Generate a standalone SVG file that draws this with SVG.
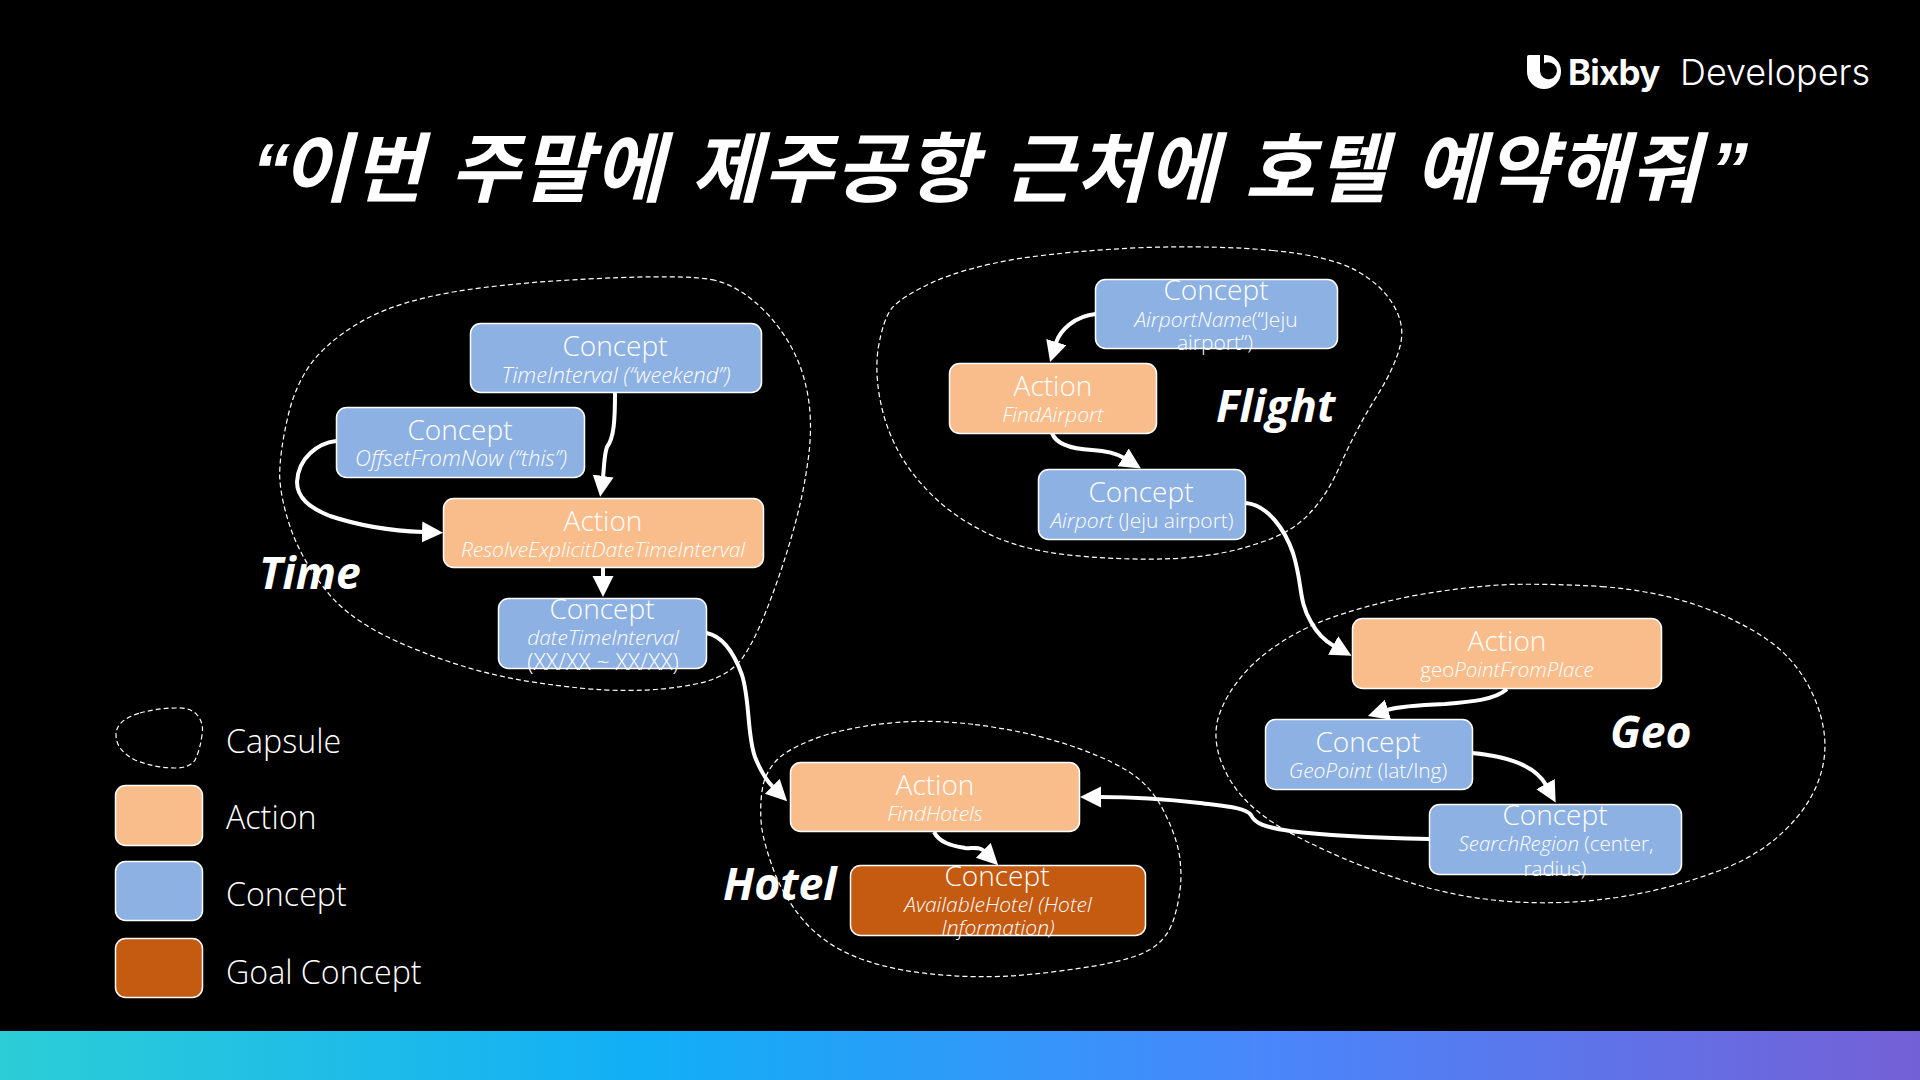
<svg xmlns="http://www.w3.org/2000/svg" width="1920" height="1080" viewBox="0 0 1920 1080">
<defs>
<linearGradient id="bar" x1="0" y1="0" x2="1" y2="0"><stop offset="0" stop-color="#2ccdd6"/><stop offset="0.34" stop-color="#12aef6"/><stop offset="0.66" stop-color="#4a86fb"/><stop offset="1" stop-color="#7460d6"/></linearGradient>
<marker id="ah" markerUnits="userSpaceOnUse" markerWidth="23" markerHeight="24" refX="1" refY="11" orient="auto"><path d="M0 0.5L21 11L0 21.5Z" fill="#fff"/></marker>
</defs>
<style>
text{fill:#fff;font-family:"Open Sans","Noto Sans CJK KR",sans-serif}
.t{font-size:28px;font-weight:300;text-anchor:middle}
.s{font-size:21px;font-weight:300;text-anchor:middle}
.s2{font-size:22px}
.s0{font-size:20.5px}
.i{font-style:italic}
.l{font-size:32.2px;font-weight:300}
.c{font-size:44.5px;font-weight:700;font-style:italic}
.a{fill:#f9bd8c;stroke:#fff;stroke-width:1.5}
.b{fill:#8db1e2;stroke:#fff;stroke-width:1.5}
.g{fill:#c55a11;stroke:#fff;stroke-width:1.5}
.cap{fill:none;stroke:#fff;stroke-width:1.2;stroke-dasharray:5 3}
.e{fill:none;stroke:#fff;stroke-width:4;marker-end:url(#ah)}
</style>
<rect width="1920" height="1080" fill="#000"/>
<rect y="1031" width="1920" height="49" fill="url(#bar)"/>
<g id="logo">
<path d="M1529 55H1561V72A17 17 0 0 1 1527 72V57Q1527 55 1529 55Z" fill="#fff"/>
<path d="M1561 55H1546A16 16 0 0 1 1561 70Z" fill="#000"/>
<path d="M1540 54H1544V63.5A8.5 8.5 0 1 1 1540 71Z" fill="#000"/>
<text x="1568" y="85" font-size="35" font-weight="700" letter-spacing="-0.8" style="font-family:Inter,sans-serif">Bixby</text>
<text x="1680" y="85" font-size="36" font-weight="300" style="font-family:Inter,sans-serif">Developers</text>
</g>
<text id="title" y="196" font-size="76" font-weight="700" font-style="italic" letter-spacing="2" style="font-family:'Noto Sans CJK KR',sans-serif" word-spacing="6"><tspan x="252" style="font-family:'Liberation Sans'">“</tspan><tspan x="281">이번 주말에 제주공항 근처에 호텔 예약해줘</tspan><tspan x="1710" style="font-family:'Liberation Sans'">”</tspan></text>
<g id="capsules">
<path id="cap-time" transform="translate(545.5 483.7) scale(1.012) translate(-543.7 -483.7)" class="cap" d="M708 282Q737 288 764 317Q791 347 800 383Q810 420 802 468Q795 517 772 582Q749 647 733 662Q718 677 690 682Q661 688 622 688Q584 688 527 679Q470 670 412 646Q355 623 330 593Q305 563 293 531Q282 500 281 476Q281 453 289 418Q297 383 316 360Q336 337 368 320Q401 303 454 294Q508 285 594 281Q680 277 708 282Z"/>
<path id="cap-flight" transform="translate(1139.4 403.5) scale(1.017 1.02) translate(-1139 -403)" class="cap" d="M1270 253Q1324 258 1351 272Q1378 287 1389 307Q1401 327 1395 348Q1389 370 1371 398Q1353 427 1338 460Q1324 493 1306 511Q1289 530 1253 541Q1217 553 1172 555Q1128 557 1074 552Q1021 547 985 528Q949 510 924 481Q899 453 888 416Q878 380 882 350Q887 320 896 309Q906 298 936 284Q967 270 1020 261Q1074 253 1145 250Q1217 248 1270 253Z"/>
<path id="cap-geo" transform="translate(1520 744) scale(1.022 1.016) translate(-1518 -743)" class="cap" d="M1598 588Q1649 592 1690 606Q1731 620 1761 641Q1792 663 1807 700Q1822 737 1813 770Q1804 803 1775 830Q1747 857 1698 873Q1649 890 1598 896Q1547 902 1496 897Q1445 892 1394 874Q1343 857 1298 833Q1253 810 1234 778Q1216 747 1222 720Q1229 693 1255 666Q1282 640 1322 623Q1363 607 1414 597Q1465 588 1506 586Q1547 585 1598 588Z"/>
<path id="cap-hotel" transform="translate(970.4 849.2) scale(1.012 1.02) translate(-970.4 -849.2)" class="cap" d="M975 727Q1017 732 1058 744Q1100 757 1125 772Q1150 787 1163 815Q1177 843 1178 865Q1180 887 1173 912Q1167 937 1147 948Q1127 960 1063 968Q1000 977 950 973Q900 970 866 958Q833 947 811 925Q790 903 778 875Q767 847 764 827Q762 807 765 789Q768 772 782 759Q797 747 828 737Q860 728 896 725Q933 722 975 727Z"/>
</g>
<g id="connectors">
<path class="e" d="M615 393C615 420 614 438 607 447C604 455 604 470 603 477"/>
<path class="e" d="M336 441C318 443 298 458 297 482C297 498 310 508 330 516C360 526 395 531 423 532"/>
<path class="e" d="M603 568V577"/>
<path class="e" d="M706.5 633C722 636 733 650 742 675C750 700 747 735 755 757C761 772 767 781 773 787"/>
<path class="e" d="M1095.7 314C1075 316 1060 330 1056 343"/>
<path class="e" d="M1052 433C1056 445 1075 449 1092 450C1108 451 1116 453 1124 458"/>
<path class="e" d="M1245.7 503C1268 505 1285 530 1293 553C1303 585 1298 600 1311 622C1318 635 1325 641 1334 646"/>
<path class="e" d="M1507 689C1495 700 1470 702 1445 704C1420 705 1400 706 1387 710"/>
<path class="e" d="M1472 753C1505 756 1535 765 1546 785"/>
<path class="e" d="M1429.4 839C1385 838 1330 836 1290 831C1265 827 1255 824 1251 815C1245 807 1222 806 1200 803C1165 799 1130 797 1100 797"/>
<path class="e" d="M934 832C940 844 955 846 965 848C972 849 979 846 984 851"/>
</g>
<g id="n-timeinterval"><rect class="b" x="470.5" y="323.5" width="291" height="69" rx="10"/><text class="t" x="615" y="356">Concept</text><text class="s s2 i" x="616" y="383">TimeInterval (“weekend”)</text></g>
<g id="n-offset"><rect class="b" x="336.5" y="407.5" width="248" height="70" rx="10"/><text class="t" x="460" y="440">Concept</text><text class="s s2 i" x="461" y="466">OffsetFromNow (“this”)</text></g>
<g id="n-resolve"><rect class="a" x="443.5" y="498.5" width="320" height="69" rx="10"/><text class="t" x="603" y="531">Action</text><text class="s i" x="603" y="557">ResolveExplicitDateTimeInterval</text></g>
<g id="n-date"><rect class="b" x="498.5" y="598.5" width="208" height="70" rx="10"/><text class="t" x="602" y="619">Concept</text><text class="s i" x="603" y="645">dateTimeInterval</text><text class="s" style="font-size:22.9px" x="603" y="670">(XX/XX ~ XX/XX)</text></g>
<g id="n-airportname"><rect class="b" x="1095.5" y="279.5" width="242" height="69" rx="10"/><text class="t" x="1216" y="300">Concept</text><text class="s" x="1216" y="327"><tspan class="i">AirportName</tspan>(“Jeju</text><text class="s" x="1215" y="350">airport”)</text></g>
<g id="n-findairport"><rect class="a" x="949.5" y="363.5" width="207" height="70" rx="10"/><text class="t" x="1053" y="396">Action</text><text class="s i" x="1053" y="422">FindAirport</text></g>
<g id="n-airport"><rect class="b" x="1038.5" y="469.5" width="207" height="70" rx="10"/><text class="t" x="1141" y="502">Concept</text><text class="s" x="1142" y="528"><tspan class="i">Airport</tspan> (Jeju airport)</text></g>
<g id="n-geopointfromplace"><rect class="a" x="1352.5" y="618.5" width="309" height="70" rx="10"/><text class="t" x="1507" y="651">Action</text><text class="s s0" x="1507" y="677">geo<tspan class="i">PointFromPlace</tspan></text></g>
<g id="n-geopoint"><rect class="b" x="1265.5" y="719.5" width="207" height="70" rx="10"/><text class="t" x="1368" y="752">Concept</text><text class="s" x="1368" y="778"><tspan class="i">GeoPoint</tspan> (lat/lng)</text></g>
<g id="n-searchregion"><rect class="b" x="1429.5" y="804.5" width="252" height="70" rx="10"/><text class="t" x="1555" y="825">Concept</text><text class="s s0" x="1556" y="851"><tspan class="i">SearchRegion</tspan> (center,</text><text class="s s0" x="1555" y="876">radius)</text></g>
<g id="n-findhotels"><rect class="a" x="790.5" y="762.5" width="289" height="69" rx="10"/><text class="t" x="935" y="795">Action</text><text class="s i" x="935" y="821">FindHotels</text></g>
<g id="n-availablehotel"><rect class="g" x="850.5" y="865.5" width="295" height="70" rx="10"/><text class="t" x="997" y="886">Concept</text><text class="s i" x="998" y="912">AvailableHotel (Hotel</text><text class="s i" x="998" y="935">Information)</text></g>
<g id="capsule-labels">
<text class="c" x="259" y="589">Time</text>
<text class="c" x="1216" y="422">Flight</text>
<text class="c" x="1610" y="748">Geo</text>
<text class="c" x="723" y="900">Hotel</text>
</g>
<g id="legend">
<path class="cap" d="M140 713Q158 708 176 708Q191 707 198 716Q204 724 202 735Q200 750 195 760Q190 768 175 768Q155 768 135 760Q116 750 116 735Q116 720 140 713Z"/>
<rect class="a" x="115.5" y="785.5" width="87" height="60" rx="10"/>
<rect class="b" x="115.5" y="861.5" width="87" height="59" rx="10"/>
<rect class="g" x="115.5" y="938.5" width="87" height="59" rx="10"/>
<text class="l" x="226" y="753">Capsule</text>
<text class="l" x="226" y="829">Action</text>
<text class="l" x="226" y="906">Concept</text>
<text class="l" x="226" y="984">Goal Concept</text>
</g>
</svg>
